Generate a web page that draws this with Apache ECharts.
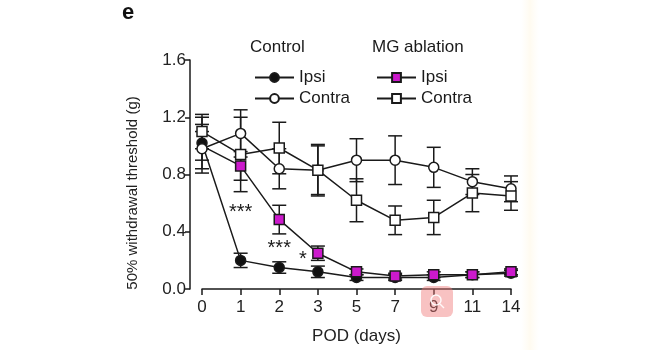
<!DOCTYPE html>
<html><head><meta charset="utf-8">
<script src="https://cdn.jsdelivr.net/npm/echarts@6/dist/echarts.min.js"></script>
<style>html,body{margin:0;padding:0;background:#fff}#c{width:650px;height:350px}</style>
</head><body><div id="c"></div>
<script>
const categories = ['0','1','2','3','5','7','9','11','14'];
const yTicks = [0, 0.4, 0.8, 1.2, 1.6];
const controlIpsi = [1.02, 0.20, 0.15, 0.12, 0.08, 0.08, 0.08, 0.10, 0.11];
const controlIpsiErr = [0.18, 0.05, 0.04, 0.04, 0.02, 0.02, 0.02, 0.02, 0.02];
const controlContra = [0.98, 1.087, 0.84, 0.83, 0.90, 0.90, 0.85, 0.75, 0.70];
const controlContraErr = [0.17, 0.165, 0.14, 0.17, 0.15, 0.17, 0.14, 0.09, 0.09];
const mgIpsi = [1.00, 0.86, 0.485, 0.25, 0.12, 0.09, 0.10, 0.10, 0.12];
const mgIpsiErr = [0.10, 0.10, 0.10, 0.05, 0.02, 0.02, 0.02, 0.02, 0.02];
const mgContra = [1.10, 0.94, 0.985, 0.83, 0.62, 0.48, 0.50, 0.67, 0.65];
const mgContraErr = [0.12, 0.26, 0.18, 0.18, 0.15, 0.10, 0.12, 0.13, 0.10];
const annotCats = [1, 2, 3];
const annotVals = [0.568, 0.318, 0.24];
const annotText = ['***', '***', '*'];

const FONT = 'Liberation Sans, Arial, Helvetica, sans-serif';
const INK = '#1a1a1a';
const MAGENTA = '#cc19cc';

function errSeries(name, vals, errs, z) {
  return {
    type: 'custom', name: name + ' err', z: z, silent: true,
    data: vals.map((v, i) => [i, v, errs[i]]),
    renderItem: function (params, api) {
      const i = api.value(0), v = api.value(1), e = api.value(2);
      const hi = api.coord([i, v + e]);
      const lo = api.coord([i, v - e]);
      const h = 7;
      const st = { stroke: INK, lineWidth: 1.5 };
      return { type: 'group', children: [
        { type: 'line', shape: { x1: hi[0], y1: hi[1], x2: lo[0], y2: lo[1] }, style: st },
        { type: 'line', shape: { x1: hi[0] - h, y1: hi[1], x2: hi[0] + h, y2: hi[1] }, style: st },
        { type: 'line', shape: { x1: lo[0] - h, y1: lo[1], x2: lo[0] + h, y2: lo[1] }, style: st }
      ]};
    }
  };
}
function lineSeries(name, vals, symbol, fill, z, hideFirst) {
  return {
    type: 'line', name: name, z: z,
    data: vals.map((v, i) => (hideFirst && i === 0) ? { value: v, symbol: 'none' } : v),
    symbol: symbol, symbolSize: 10, showAllSymbol: true,
    lineStyle: { color: INK, width: 1.5 },
    itemStyle: { color: fill, borderColor: INK, borderWidth: 1.5 },
    emphasis: { disabled: true }
  };
}

const chart = echarts.init(document.getElementById('c'), null, { renderer: 'canvas' });
const legendCommon = {
  orient: 'vertical', itemWidth: 39, itemHeight: 11, itemGap: 4,
  selectedMode: false,
  textStyle: { fontFamily: FONT, fontSize: 17, color: INK },
  formatter: n => n.split(' ')[1]
};
chart.setOption({
  animation: false,
  backgroundColor: '#ffffff',
  textStyle: { fontFamily: FONT },
  grid: { left: 202, right: 139, top: 60, bottom: 59, containLabel: false },
  legend: [
    Object.assign({}, legendCommon, { data: ['Control Ipsi', 'Control Contra'], left: 249, top: 64 }),
    Object.assign({}, legendCommon, { data: ['MG Ipsi', 'MG Contra'], left: 371, top: 64 })
  ],
  xAxis: {
    type: 'category', data: categories, boundaryGap: false, offset: 3,
    axisLine: { lineStyle: { color: INK, width: 1.5 } },
    axisTick: { length: 6, lineStyle: { color: INK, width: 1.5 } },
    axisLabel: { fontSize: 17, color: '#222', margin: 7, fontFamily: FONT },
    splitLine: { show: false },
    name: 'POD (days)', nameLocation: 'middle', nameGap: 36,
    nameTextStyle: { fontSize: 17, color: '#222', fontFamily: FONT }
  },
  yAxis: {
    type: 'value', min: yTicks[0], max: yTicks[yTicks.length - 1], interval: yTicks[1] - yTicks[0],
    offset: 12,
    axisLine: { show: true, lineStyle: { color: INK, width: 1.5 } },
    axisTick: { show: true, length: 5, lineStyle: { color: INK, width: 1.5 } },
    axisLabel: { fontSize: 17, color: '#222', margin: 4, fontFamily: FONT, formatter: v => v.toFixed(1) },
    splitLine: { show: false }
  },
  graphic: [
    { type: 'rect', silent: true, z: -10, shape: { x: 521, y: 0, width: 18, height: 350 },
      style: { fill: new echarts.graphic.LinearGradient(0, 0, 1, 0, [
        { offset: 0, color: 'rgba(255,250,238,0)' },
        { offset: 0.5, color: 'rgba(255,249,234,0.7)' },
        { offset: 1, color: 'rgba(255,250,238,0)' }]) } },
    { type: 'text', left: 122, top: 2, style: { text: 'e', font: 'bold 22px ' + FONT, fill: '#111' } },
    { type: 'text', left: 250, top: 39, style: { text: 'Control', font: '17px ' + FONT, fill: INK } },
    { type: 'text', left: 372, top: 39, style: { text: 'MG ablation', font: '17px ' + FONT, fill: INK } },
    { type: 'text', x: 133, y: 193, rotation: Math.PI / 2,
      style: { text: '50% withdrawal threshold (g)', font: '15px ' + FONT, fill: '#222',
               align: 'center', verticalAlign: 'middle' } },
    { type: 'rect', silent: true, z: 100, shape: { x: 421, y: 286, width: 32, height: 31, r: 6 },
      style: { fill: 'rgba(240,120,120,0.45)' } },
    { type: 'circle', silent: true, z: 101, shape: { cx: 436, cy: 300, r: 5 },
      style: { fill: 'none', stroke: 'rgba(255,255,255,0.9)', lineWidth: 1.5 } },
    { type: 'line', silent: true, z: 101, shape: { x1: 440, y1: 304, x2: 444, y2: 308 },
      style: { stroke: 'rgba(255,255,255,0.9)', lineWidth: 1.5 } }
  ],
  series: [
    errSeries('Control Ipsi', controlIpsi, controlIpsiErr, 1),
    errSeries('MG Ipsi', mgIpsi, mgIpsiErr, 1),
    errSeries('Control Contra', controlContra, controlContraErr, 1),
    errSeries('MG Contra', mgContra, mgContraErr, 1),
    lineSeries('Control Ipsi', controlIpsi, 'circle', '#111', 3, false),
    lineSeries('MG Ipsi', mgIpsi, 'rect', MAGENTA, 4, true),
    lineSeries('Control Contra', controlContra, 'circle', '#ffffff', 5, false),
    lineSeries('MG Contra', mgContra, 'rect', '#ffffff', 6, false),
    {
      type: 'custom', name: 'annot', silent: true, z: 7,
      data: annotCats.map((c, i) => [c, annotVals[i], annotText[i]]),
      renderItem: function (params, api) {
        const p = api.coord([api.value(0), api.value(1)]);
        const txt = annotText[params.dataIndex];
        const single = txt.length === 1;
        return { type: 'text', x: single ? p[0] - 11 : p[0], y: p[1] + 5,
          style: { text: txt, font: '20px ' + FONT, fill: INK,
                   align: single ? 'right' : 'center', verticalAlign: 'middle' } };
      }
    }
  ]
});
</script></body></html>
